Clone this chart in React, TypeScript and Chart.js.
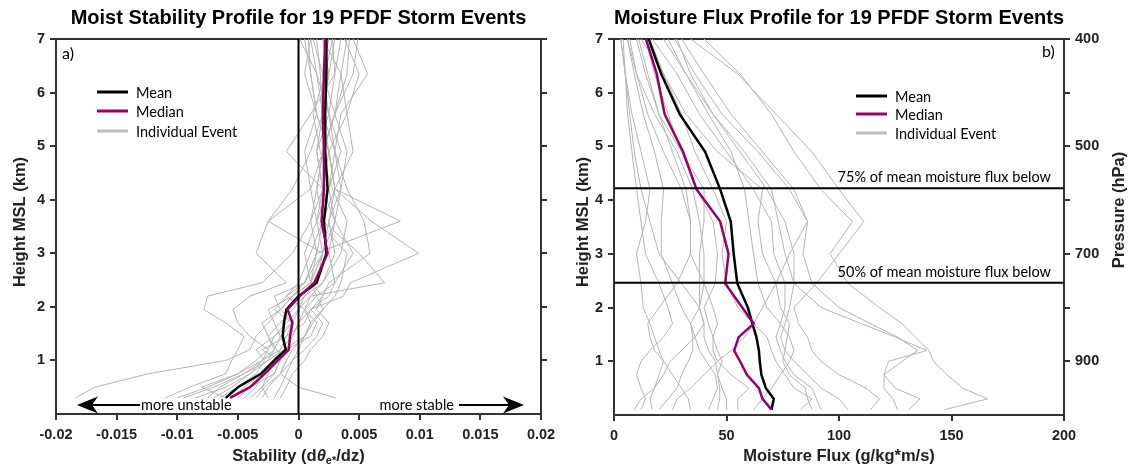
import React, { useEffect, useRef } from 'react';
import { Chart, registerables } from 'chart.js';

Chart.register(...registerables);

// ---------------- DATA ----------------
const TITLE_LEFT = 'Moist Stability Profile for 19 PFDF Storm Events';
const TITLE_RIGHT = 'Moisture Flux Profile for 19 PFDF Storm Events';

// heights (km MSL) of the stability profile points
const STAB_HEIGHTS = [0.3, 0.5, 0.75, 1.0, 1.2, 1.45, 1.7, 1.95, 2.2, 2.45, 3.0, 3.6, 4.2, 4.9, 5.6, 6.35, 7.0];
const STAB_MEAN = [-0.006, -0.005, -0.0031, -0.002, -0.00105, -0.0013, -0.0012, -0.001, 0.0, 0.0015, 0.0023, 0.0021, 0.0024, 0.0022, 0.0022, 0.0023, 0.0023];
const STAB_MEDIAN = [-0.00565, -0.004, -0.0028, -0.0017, -0.0008, -0.0007, -0.0005, -0.0009, 0.0001, 0.0013, 0.0024, 0.0019, 0.0021, 0.0021, 0.002, 0.0021, 0.0022];
const STAB_EVENTS = [
  [-0.0184, -0.0168, -0.0124, -0.006, -0.004, -0.0035, -0.0025, -0.0015, -0.0005, 0.001, 0.002, 0.0015, 0.0025, 0.003, 0.002, 0.0025, 0.002],
  [-0.011, -0.009, -0.006, -0.0055, -0.005, -0.0045, -0.006, -0.0078, -0.0075, -0.003, -0.0005, 0.001, 0.002, 0.0015, 0.0025, 0.003, 0.0028],
  [-0.0095, -0.007, -0.0045, -0.003, -0.0025, -0.004, -0.005, -0.0054, -0.004, -0.001, -0.0035, -0.0025, 0.001, 0.002, 0.003, 0.0035, 0.004],
  [0.0031, 0.0, -0.0015, -0.001, -0.0005, 0.0005, 0.001, 0.002, 0.0015, 0.003, 0.0045, 0.003, 0.0025, 0.0035, 0.0025, 0.0015, 0.001],
  [-0.006, -0.008, -0.005, -0.0035, -0.0025, -0.002, -0.0005, 0.0, 0.001, 0.0071, 0.005, 0.002, 0.0015, 0.002, 0.003, 0.0045, 0.0049],
  [-0.005, -0.004, -0.002, -0.0015, -0.003, -0.001, 0.0005, 0.001, 0.0037, 0.0043, 0.0099, 0.006, 0.003, 0.0025, 0.002, 0.0018, 0.0015],
  [-0.003, -0.0025, -0.0015, -0.0005, 0.0005, 0.0015, 0.002, 0.001, 0.002, 0.0025, 0.0059, 0.0054, 0.004, 0.003, 0.0035, 0.0057, 0.0045],
  [-0.0045, -0.0035, -0.003, -0.002, -0.001, -0.0015, -0.0005, -0.002, -0.001, 0.0005, 0.0015, 0.0084, 0.003, 0.0025, 0.0015, 0.001, 0.0005],
  [-0.007, -0.0055, -0.004, -0.003, -0.002, -0.0015, -0.002, -0.0025, -0.0005, 0.001, 0.002, -0.0025, -0.0005, 0.001, 0.002, 0.0015, 0.0001],
  [-0.002, -0.0015, -0.001, -0.0005, 0.0, 0.0005, 0.001, 0.0005, 0.001, 0.002, 0.003, 0.0025, 0.0035, 0.004, 0.003, 0.002, 0.0025],
  [-0.01, -0.0075, -0.005, -0.003, -0.0015, -0.0005, 0.0, 0.0005, 0.0015, 0.001, 0.0005, 0.0015, 0.002, -0.001, 0.001, 0.003, 0.0035],
  [-0.004, -0.003, -0.002, -0.0015, -0.001, -0.0005, 0.0, 0.001, 0.0025, 0.003, 0.0025, 0.003, 0.002, 0.0015, 0.002, 0.0025, 0.003],
  [-0.0035, -0.0028, -0.0015, -0.001, -0.0018, -0.0025, -0.0015, -0.0005, 0.0005, 0.0015, 0.002, 0.0025, 0.003, 0.0045, 0.004, 0.0035, 0.002],
  [-0.0075, -0.0065, -0.0045, -0.0025, -0.0012, 0.0005, 0.0012, 0.002, 0.003, 0.0035, 0.004, 0.0015, 0.001, 0.0005, 0.0015, 0.001, 0.0008],
  [-0.0055, -0.0045, -0.003, -0.002, -0.001, 0.001, 0.0015, 0.0005, -0.001, 0.0, 0.001, 0.002, 0.002, 0.0025, 0.004, 0.005, 0.0038],
  [-0.0025, -0.003, -0.0025, -0.002, -0.0015, -0.001, -0.0005, -0.0015, -0.002, 0.0005, 0.002, 0.003, 0.0035, 0.003, 0.0025, 0.002, 0.0012],
  [-0.0065, -0.005, -0.0035, -0.0028, -0.0035, -0.002, -0.001, 0.0, 0.0005, 0.002, 0.0035, 0.004, 0.0028, 0.0018, 0.0012, 0.0022, 0.0028],
  [-0.0015, -0.001, -0.0005, 0.0005, 0.001, 0.002, 0.0025, 0.0015, 0.002, 0.001, 0.0015, 0.001, 0.0015, 0.002, 0.003, 0.004, 0.0042],
  [-0.0085, -0.006, -0.004, -0.0025, -0.002, -0.0025, -0.003, -0.0015, -0.0005, 0.0005, 0.0015, 0.002, 0.003, 0.0025, 0.0015, 0.0005, 0.001],
];

// heights (km MSL) of the moisture flux profile points
const FLUX_HEIGHTS = [0.1, 0.3, 0.5, 0.75, 1.0, 1.2, 1.45, 1.7, 2.0, 2.45, 3.0, 3.6, 4.2, 4.9, 5.6, 6.35, 7.0];
const FLUX_MEAN = [70, 71, 67.5, 65.5, 64.8, 64.4, 63.3, 61.5, 59.5, 54.8, 53.2, 51.9, 47.2, 40.5, 29.2, 21, 15.4];
const FLUX_MEDIAN = [70, 66, 64.4, 59.1, 56, 53.4, 55.4, 62.1, 57, 49.4, 50.9, 47.2, 36.7, 30.7, 22.5, 19, 14.2];
const FLUX_EVENTS = [
  [9, 12, 18, 22, 25, 30, 36, 40, 38, 30, 20, 16, 12, 9, 7, 5, 3],
  [17, 16, 18, 20, 22, 20, 18, 16, 13, 12, 10, 14, 16, 12, 8, 5, 4],
  [20, 24, 28, 30, 33, 35, 35, 34, 30, 26, 21, 21, 22, 18, 13, 9, 6],
  [34, 33, 30, 26, 22, 18, 16, 15, 20, 28, 34, 34, 30, 22, 15, 10, 7],
  [42, 44, 46, 45, 41, 38, 36, 34, 38, 38, 38, 40, 40, 30, 20, 14, 10],
  [46, 47, 47, 46, 45, 42, 40, 40, 38, 40, 40, 38, 35, 28, 18, 10, 6],
  [50, 50, 48, 46, 48, 46, 44, 42, 40, 45, 46, 44, 37, 30, 24, 18, 14],
  [55, 55, 60, 52, 46, 44, 44, 46, 44, 40, 34, 34, 32, 26, 20, 15, 11],
  [83, 88, 80, 76, 72, 70, 68, 62, 55, 50, 48, 50, 44, 36, 30, 22, 16],
  [88, 86, 85, 78, 75, 76, 77, 78, 74, 72, 66, 64, 66, 46, 32, 22, 12],
  [92, 90, 88, 80, 76, 74, 72, 74, 76, 76, 71, 70, 62, 50, 38, 28, 17],
  [104, 100, 92, 86, 80, 76, 74, 76, 78, 80, 80, 76, 68, 56, 44, 34, 28],
  [114, 118, 112, 100, 92, 88, 86, 82, 80, 90, 100, 111, 100, 88, 72, 55, 34],
  [126, 124, 120, 120, 128, 135, 126, 114, 100, 88, 84, 86, 78, 64, 48, 36, 27],
  [131, 136, 125, 120, 122, 139, 125, 110, 92, 80, 76, 73, 70, 58, 44, 32, 24],
  [147, 166, 155, 148, 142, 140, 134, 128, 118, 104, 96, 106, 92, 80, 70, 56, 40],
  [62, 66, 70, 74, 78, 80, 78, 74, 68, 64, 62, 60, 58, 52, 42, 32, 22],
  [26, 28, 34, 40, 46, 52, 58, 62, 66, 72, 78, 86, 80, 66, 52, 40, 30],
  [12, 14, 12, 10, 12, 16, 22, 26, 24, 20, 14, 12, 10, 8, 6, 5, 3],
];

const FLUX_75_HEIGHT = 4.22;
const FLUX_50_HEIGHT = 2.46;
const STAB_ZERO = 0;

const PRESSURE_KM = [1, 3, 5, 7];
const PRESSURE_LABELS = ['900', '700', '500', '400'];

const LEGEND_LABELS = ['Mean', 'Median', 'Individual Event'];

// ---------------- STYLE ----------------
const W = 1135;
const H = 469;
const SPLIT = 567;
const FONT_SANS = '"Liberation Sans", Arial, sans-serif';
const FONT_ANN = 'Lato, "Open Sans", sans-serif';
const AXIS_COLOR = '#333333';
const MEAN_COLOR = '#000000';
const MEDIAN_COLOR = '#990066';
const EVENT_COLOR = '#b4b4b4';
const LEGEND_GRAY = '#bdbdbd';

const tickFont = { family: FONT_SANS, size: 14.5, weight: 'bold' as const };
const gridBase = { drawOnChartArea: false, color: AXIS_COLOR, lineWidth: 2, tickLength: 6, tickWidth: 2 };
const borderBase = { display: true, color: AXIS_COLOR, width: 2 };

function series(heights: number[], values: number[], color: string, width: number) {
  return {
    data: heights.map((h, i) => ({ x: values[i], y: h })),
    borderColor: color,
    backgroundColor: color,
    borderWidth: width,
    pointRadius: 0,
    pointHoverRadius: 0,
    showLine: true,
    fill: false,
    tension: 0,
  };
}

function drawLegend(ctx: CanvasRenderingContext2D, x: number, ys: number[]) {
  const colors = [MEAN_COLOR, MEDIAN_COLOR, LEGEND_GRAY];
  ctx.save();
  ctx.font = `14.5px ${FONT_ANN}`;
  ctx.textAlign = 'left';
  ctx.textBaseline = 'middle';
  LEGEND_LABELS.forEach((lab, i) => {
    ctx.strokeStyle = colors[i];
    ctx.lineWidth = 3;
    ctx.beginPath();
    ctx.moveTo(x, ys[i]);
    ctx.lineTo(x + 31, ys[i]);
    ctx.stroke();
    ctx.fillStyle = '#000';
    ctx.fillText(lab, x + 39, ys[i] + 1);
  });
  ctx.restore();
}

function drawArrowHead(ctx: CanvasRenderingContext2D, tipX: number, y: number, dir: number) {
  // dir = -1 pointing left, +1 pointing right
  ctx.beginPath();
  ctx.moveTo(tipX, y);
  ctx.lineTo(tipX - dir * 21, y - 8.5);
  ctx.lineTo(tipX - dir * 15, y);
  ctx.lineTo(tipX - dir * 21, y + 8.5);
  ctx.closePath();
  ctx.fill();
}

function drawVTitle(ctx: CanvasRenderingContext2D, text: string, x: number, y: number) {
  ctx.save();
  ctx.translate(x, y);
  ctx.rotate(-Math.PI / 2);
  ctx.font = `bold 16.5px ${FONT_SANS}`;
  ctx.fillStyle = '#222';
  ctx.textAlign = 'center';
  ctx.textBaseline = 'middle';
  ctx.fillText(text, 0, 0);
  ctx.restore();
}

const leftPlugin = {
  id: 'leftDecor',
  afterDatasetsDraw(chart: any) {
    const ctx = chart.ctx as CanvasRenderingContext2D;
    const xs = chart.scales.x;
    const ys = chart.scales.y;
    const x0 = xs.getPixelForValue(STAB_ZERO);
    ctx.save();
    ctx.strokeStyle = '#000';
    ctx.lineWidth = 2;
    ctx.beginPath();
    ctx.moveTo(x0, ys.getPixelForValue(ys.max));
    ctx.lineTo(x0, ys.getPixelForValue(ys.min));
    ctx.stroke();
    ctx.restore();
  },
  afterDraw(chart: any) {
    const ctx = chart.ctx as CanvasRenderingContext2D;
    const area = chart.chartArea;
    ctx.save();
    // title
    ctx.fillStyle = '#000';
    ctx.font = `bold 20px ${FONT_SANS}`;
    ctx.textAlign = 'center';
    ctx.textBaseline = 'middle';
    ctx.fillText(TITLE_LEFT, (area.left + area.right) / 2, 18);
    // y title
    drawVTitle(ctx, 'Height MSL (km)', 20, 222);
    // x title with subscript
    const parts = [
      { t: 'Stability (d', f: `bold 16.5px ${FONT_SANS}`, dy: 0 },
      { t: 'θ', f: `italic bold 16.5px ${FONT_SANS}`, dy: 0 },
      { t: 'e*', f: `bold 11px ${FONT_SANS}`, dy: 5 },
      { t: '/dz)', f: `bold 16.5px ${FONT_SANS}`, dy: 0 },
    ];
    let total = 0;
    parts.forEach((p) => { ctx.font = p.f; total += ctx.measureText(p.t).width; });
    let cx = (area.left + area.right) / 2 - total / 2;
    ctx.textAlign = 'left';
    ctx.fillStyle = '#222';
    parts.forEach((p) => {
      ctx.font = p.f;
      ctx.fillText(p.t, cx, 456 + p.dy);
      cx += ctx.measureText(p.t).width;
    });
    // panel label
    ctx.fillStyle = '#000';
    ctx.font = `16px ${FONT_ANN}`;
    ctx.textAlign = 'left';
    ctx.fillText('a)', area.left + 6, 54);
    // legend
    drawLegend(ctx, 97, [92, 111, 131]);
    // arrows
    const ay = 405;
    ctx.fillStyle = '#000';
    ctx.strokeStyle = '#000';
    ctx.lineWidth = 2;
    ctx.beginPath();
    ctx.moveTo(92, ay);
    ctx.lineTo(140, ay);
    ctx.stroke();
    drawArrowHead(ctx, 77, ay, -1);
    ctx.beginPath();
    ctx.moveTo(459, ay);
    ctx.lineTo(510, ay);
    ctx.stroke();
    drawArrowHead(ctx, 524, ay, 1);
    ctx.font = `14.5px ${FONT_ANN}`;
    ctx.textBaseline = 'middle';
    ctx.textAlign = 'left';
    ctx.fillText('more unstable', 141, ay);
    ctx.textAlign = 'right';
    ctx.fillText('more stable', 454, ay);
    ctx.restore();
  },
};

const rightPlugin = {
  id: 'rightDecor',
  afterDatasetsDraw(chart: any) {
    const ctx = chart.ctx as CanvasRenderingContext2D;
    const xs = chart.scales.x;
    const ys = chart.scales.y;
    ctx.save();
    ctx.strokeStyle = '#000';
    ctx.lineWidth = 2;
    [FLUX_75_HEIGHT, FLUX_50_HEIGHT].forEach((h) => {
      const py = ys.getPixelForValue(h);
      ctx.beginPath();
      ctx.moveTo(xs.getPixelForValue(xs.min), py);
      ctx.lineTo(xs.getPixelForValue(xs.max), py);
      ctx.stroke();
    });
    ctx.fillStyle = '#000';
    ctx.font = `14.5px ${FONT_ANN}`;
    ctx.textAlign = 'right';
    ctx.textBaseline = 'alphabetic';
    ctx.fillText('75% of mean moisture flux below', 1051 - SPLIT, ys.getPixelForValue(FLUX_75_HEIGHT) - 6);
    ctx.fillText('50% of mean moisture flux below', 1051 - SPLIT, ys.getPixelForValue(FLUX_50_HEIGHT) - 6);
    ctx.restore();
  },
  afterDraw(chart: any) {
    const ctx = chart.ctx as CanvasRenderingContext2D;
    const area = chart.chartArea;
    ctx.save();
    ctx.fillStyle = '#000';
    ctx.font = `bold 20px ${FONT_SANS}`;
    ctx.textAlign = 'center';
    ctx.textBaseline = 'middle';
    ctx.fillText(TITLE_RIGHT, (area.left + area.right) / 2, 18);
    drawVTitle(ctx, 'Height MSL (km)', 583 - SPLIT, 222);
    drawVTitle(ctx, 'Pressure (hPa)', 1119 - SPLIT, 210);
    ctx.fillStyle = '#222';
    ctx.font = `bold 16.5px ${FONT_SANS}`;
    ctx.textAlign = 'center';
    ctx.fillText('Moisture Flux (g/kg*m/s)', (area.left + area.right) / 2, 456);
    ctx.fillStyle = '#000';
    ctx.font = `16px ${FONT_ANN}`;
    ctx.textAlign = 'left';
    ctx.fillText('b)', 1042 - SPLIT, 52);
    drawLegend(ctx, 856 - SPLIT, [96, 114, 133]);
    ctx.restore();
  },
};

function hideZero(s: any) {
  s.ticks = s.ticks.filter((t: any) => t.value >= 1);
}

function makeConfig(side: 'left' | 'right'): any {
  const isLeft = side === 'left';
  const heights = isLeft ? STAB_HEIGHTS : FLUX_HEIGHTS;
  const mean = isLeft ? STAB_MEAN : FLUX_MEAN;
  const median = isLeft ? STAB_MEDIAN : FLUX_MEDIAN;
  const events = isLeft ? STAB_EVENTS : FLUX_EVENTS;
  const canvasW = isLeft ? SPLIT : W - SPLIT;
  const plotLeft = isLeft ? 56 : 614 - SPLIT;
  const plotRight = isLeft ? 541 : 1064 - SPLIT;
  const plotBottom = isLeft ? 414 : 415;

  const datasets = [
    series(heights, median, MEDIAN_COLOR, 2.5),
    series(heights, mean, MEAN_COLOR, 2.5),
    ...events.map((ev) => series(heights, ev, EVENT_COLOR, 1)),
  ];

  const tickColor = '#222';
  return {
    type: 'scatter',
    data: { datasets },
    options: {
      responsive: false,
      animation: false,
      events: [],
      layout: { padding: { top: 39, left: 0, right: 0, bottom: 0 } },
      plugins: { legend: { display: false }, tooltip: { enabled: false }, title: { display: false } },
      scales: {
        x: {
          type: 'linear',
          position: 'bottom',
          min: isLeft ? -0.02 : 0,
          max: isLeft ? 0.02 : 200,
          ticks: {
            stepSize: isLeft ? 0.005 : 50,
            font: tickFont,
            color: tickColor,
            padding: 6,
            maxRotation: 0,
            autoSkip: false,
            callback: (v: number) => String(+Number(v).toFixed(3)),
          },
          grid: gridBase,
          border: borderBase,
          afterFit: (s: any) => { s.height = H - plotBottom; },
        },
        xTop: {
          type: 'linear',
          position: 'top',
          min: isLeft ? -0.02 : 0,
          max: isLeft ? 0.02 : 200,
          ticks: { display: false },
          grid: { display: false },
          border: borderBase,
          afterFit: (s: any) => { s.height = 0; },
        },
        y: {
          type: 'linear',
          position: 'left',
          min: 0,
          max: 7,
          ticks: { stepSize: 1, font: tickFont, color: tickColor, padding: 5 },
          afterBuildTicks: hideZero,
          grid: gridBase,
          border: borderBase,
          afterFit: (s: any) => { s.width = plotLeft; },
        },
        y2: {
          type: 'linear',
          position: 'right',
          min: 0,
          max: 7,
          ticks: {
            stepSize: 1,
            font: tickFont,
            color: tickColor,
            padding: 5,
            callback: (v: number) => {
              if (isLeft) return '';
              const i = PRESSURE_KM.indexOf(v);
              return i >= 0 ? PRESSURE_LABELS[i] : '';
            },
          },
          afterBuildTicks: hideZero,
          grid: gridBase,
          border: borderBase,
          afterFit: (s: any) => { s.width = canvasW - plotRight; },
        },
      },
    },
    plugins: [isLeft ? leftPlugin : rightPlugin],
  };
}

export default function App() {
  const leftRef = useRef<HTMLCanvasElement>(null);
  const rightRef = useRef<HTMLCanvasElement>(null);

  useEffect(() => {
    const charts: Chart[] = [];
    if (leftRef.current) charts.push(new Chart(leftRef.current, makeConfig('left')));
    if (rightRef.current) charts.push(new Chart(rightRef.current, makeConfig('right')));
    return () => charts.forEach((c) => c.destroy());
  }, []);

  return (
    <div style={{ position: 'absolute', left: 0, top: 0, width: W, height: H, background: '#fff' }}>
      <canvas
        ref={leftRef}
        width={SPLIT}
        height={H}
        style={{ position: 'absolute', left: 0, top: 0, width: SPLIT, height: H }}
      />
      <canvas
        ref={rightRef}
        width={W - SPLIT}
        height={H}
        style={{ position: 'absolute', left: SPLIT, top: 0, width: W - SPLIT, height: H }}
      />
    </div>
  );
}
